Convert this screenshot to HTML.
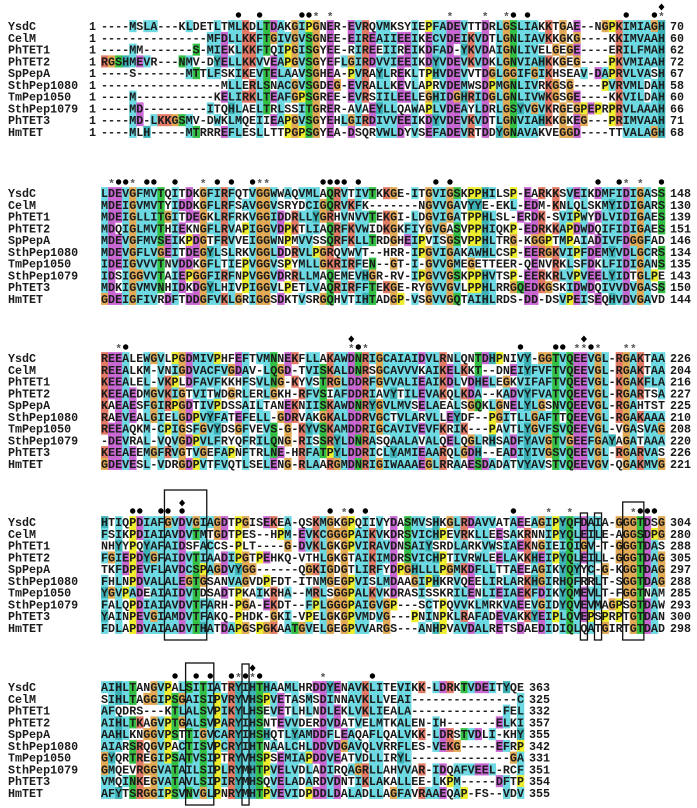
<!DOCTYPE html>
<html>
<head>
<meta charset="utf-8">
<style>
html,body{margin:0;padding:0;background:#fff;}
svg{display:block;}
text{font-family:"Liberation Mono",monospace;font-weight:bold;}
</style>
</head>
<body>
<svg id="msa" width="697" height="808" viewBox="0 0 697 808" xmlns="http://www.w3.org/2000/svg"></svg>
<script>
const names = ["YsdC","CelM","PhTET1","PhTET2","SpPepA","SthPep1080","TmPep1050","SthPep1079","PhTET3","HmTET"];
const startNums = [1,1,1,1,1,1,1,1,1,1];
const endNums0 = [70,60,62,72,67,58,60,66,71,68];
const endNums1 = [148,130,139,151,146,134,135,143,150,144];
const endNums2 = [226,204,216,227,225,210,208,220,226,221];
const endNums3 = [304,280,288,305,297,288,285,293,300,298];
const endNums4 = [363,325,332,357,355,342,331,351,354,355];
const seqs0 = [
"----MSLA---KLDETLTMLKDLTDAKGIPGNER-EVRQVMKSYIEPFADEVTTDRLGSLIAKKTGAE--NGPKIMIAGH",
"---------------MFDLLKKFTGIVGVSGNEE-EIREAIIEEIKECVDEIKVDTLGNLIAVKKGKG----KKIMVAAH",
"----MM-------S-MIEKLKKFTQIPGISGYEE-RIREEIIREIKDFAD-YKVDAIGNLIVELGEGE----ERILFMAH",
"RGSHMEVR---NMV-DYELLKKVVEAPGVSGYEFLGIRDVVIEEIKDYVDEVKVDKLGNVIAHKKGEG----PKVMIAAH",
"----S-------MTTLFSKIKEVTELAAVSGHEA-PVRAYLREKLTPHVDEVVTDGLGGIFGIKHSEAV-DAPRVLVASH",
"-----------------MLLERLSNACGVSGDEG-EVRALLKEVLAPRVDEMWSDPMGNLIVRKGSG----PVRVMLDAH",
"----M-----------KELIRKLTEAFGPSGREE-EVRSIILEELEGHIDGHRIDGLGNLIVWKGSGE----KKVILDAH",
"----MD---------ITQHLAELTRLSSITGRER-AVAEYLLQAWAPLVDEAYLDRLGSYVGVKRGEGPEPRPRVLAAAH",
"----MD-LKKGSMV-DWKLMQEIIEAPGVSGYEHLGIRDIVVEEIKDYVDEVKVDTLGNVIAHKKGKEG---PRIMVAAH",
"----MLH-----MTRRREFLESLLTTPGPSGYEA-DSQRVWLDYVSEFADEVRTDDYGNAVAKVEGGD----TTVALAGH"];
const seqs1 = [
"LDEVGFMVTQITDKGFIRFQTVGGWWAQVMLAQRVTIVTKKGE-ITGVIGSKPPHILSP-EARKKSVEIKDMFIDIGASS",
"MDEIGVMVTYIDDKGFLRFSAVGGVSRYDCIGQRVKFK-------NGVVGAVYYE-EKL-EDM-KNLQLSKMYIDIGARS",
"MDEIGLLITGITDEGKLRFRKVGGIDDRLLYGRHVNVVTEKGI-LDGVIGATPPHLSL-ERDK-SVIPWYDLVIDIGAES",
"MDQIGLMVTHIEKNGFLRVAPIGGVDPKTLIAQRFKVWIDKGKFIYGVGASVPPHIQKP-EDRKKAPDWDQIFIDIGAES",
"MDEVGFMVSEIKPDGTFRVVEIGGWNPMVVSSQRFKLLTRDGHEIPVISGSVPPHLTRG-KGGPTMPAIADIVFDGGFAD",
"MDEVGFLVGEITDEGYLSLRKVGGLDDRVLPGRQVWVT--HRR-IPGVIGAKAWHLCSP-EERGKVIPFDEMYVDLGCRS",
"IDEIGVVVTNVDDKGFLTIEPVGGVSPYMLLGKRIRFEN--GT-I-GVVGMEGETTEER-QENVRKLSFDKLFIDIGANS",
"IDSIGGVVTAIEPGGFIRFNPVGGVDRRLLMAQEMEVHGR-RV-IPGVVGSKPPHVTSP-EERKRLVPVEELYIDTGLPE",
"MDKIGVMVNHIDKDGYLHIVPIGGVLPETLVAQRIRFFTEKGE-RYGVVGVLPPHLRRGQEDKGSKIDWDQIVVDVGASS",
"GDEIGFIVRDFTDDGFVKLGRIGGSDKTVSRGQHVTIHTADGP-VSGVVGQTAIHLRDS-DD-DSVPEISEQHVDVGAVD"];
const seqs2 = [
"REEALEWGVLPGDMIVPHFEFTVMNNEKFLLAKAWDNRIGCAIAIDVLRNLQNTDHPNIVY-GGTVQEEVGL-RGAKTAA",
"REEALKM-VNIGDVACFVGDAV-LQGD-TVISKALDNRSGCAVVVKAIKELKKT--DNEIYFVFTVQEEVGL-RGAKTAA",
"KEEALEL-VKPLDFAVFKKHFSVLNG-KYVSTRGLDDRFGVVALIEAIKDLVDHELEGKVIFAFTVQEEVGL-KGAKFLA",
"KEEAEDMGVKIGTVITWDGRLERLGKH-RFVSIAFDDRIAVYTILEVAKQLKDA--KADVYFVATVQEEVGL-RGARTSA",
"KAEAESFGIRPGDTIVPDSSAILTANEKNIISKAWDNRYGVLMVSELAEALSGQKLGNELYLGSNVQEEVGL-RGAHTST",
"RAEVEALGIELGDPVYFATEFELL-GDRVAKGKALDDRVGCTVLARVLLEYDF--PGITLLGAFTTQEEVGL-RGAKAAA",
"REEAQKM-CPIGSFGVYDSGFVEVS-G-KYVSKAMDDRIGCAVIVEVFKRIK---PAVTLYGVFSVQEEVGL-VGASVAG",
"-DEVRAL-VQVGDPVLFRYQFRILQNG-RISSRYLDNRASQAALAVALQELQGLRHSADFYAVGTVGEEFGAYAGATAAA",
"KEEAEEMGFRVGTVGEFAPNFTRLNE-HRFATPYLDDRICLYAMIEAARQLGDH--EADIYIVGSVQEEVGL-RGARVAS",
"GDEVESL-VDRGDPVTFVQTLSELENG-RLAARGMDNRIGIWAAAEGLRRAAESDADATVYAVSTVQEEVGV-QGAKMVG"];
const seqs3 = [
"HTIQPDIAFGVDVGIAGDTPGISEKEA-QSKMGKGPQIIVYDASMVSHKGLRDAVVATAEEAGIPYQFDAIA-GGGTDSG",
"FSIKPDIAIAVDVTMTGDTPES--HPM-EVKCGGGPAIKVKDRSVICHPEVRKLLEESAKRNNIPYQLEILE-AGGSDPG",
"NHYYPQYAFAIDSFACCS-PLT----G-DVKLGKGPVIRAVDNSAIYSRDLARKVWSIAEKNGIEIQIGV-T-GGGTDAS",
"FGIEPDYGFAIDVTIAADIPGTPEHKQ-VTHLGKGTAIKIMDRSVICHPTIVRWLEELAKKHEIPYQLEILL-GGGTDAG",
"TKFDPEVFLAVDCSPAGDVYGG------QGKIGDGTLIRFYDPGHLLLPGMKDFLLTTAEEAGIKYQYYC-G-KGGTDAG",
"FHLNPDVALALEGTGSANVAGVDPFDT-ITNMGEGPVISLMDAAGIPHKRVQEELIRLARKHGIRHQFRRLT-SGGTDAG",
"YGVPADEAIAIDVTDSADTPKAIKRHA--MRLSGGPALKVKDRASISSKRILENLIEIAEKFDIKYQMEVLT-FGGTNAM",
"FALQPDIAIAVDVTFARH-PGA-EKDT--FPLGGGPAIGVGP---SCTPQVVKLMRKVAEEVGIDYQVEVMAGPSGTDAW",
"YAINPEVGIAMDVTFAKQ-PHDK-GKI-VPELGKGPVMDVG---PNINPKLRAFADEVAKKYEIPLQVEPSPRPTGTDAN",
"FDLAPDVAIAADVTHATDAPGSPGKAATGVELGEGPVVARGS---ANHPVAVDALRETSDAEDIDIQLQATGIRTGTDAD"];
const seqs4 = [
"AIHLTANGVPALSITIATRYIHTHAAMLHRDDYENAVKLITEVIKK-LDRKTVDEITYQE",
"SIHLTAGGIPSGAISIPVRYVHSPVETASMSDINNAVKLLVEAI---------------C",
"AFQDRS---KTLALSVPIKYLHSEVETLHLNDLEKLVKLIEALA-------------FEL",
"AIHLTKAGVPTGALSVPARYIHSNTEVVDERDVDATVELMTKALEN-IH-------ELKI",
"AAHLKNGGVPSTTIGVCARYIHSHQTLYAMDDFLEAQAFLQALVKK-LDRSTVDLI-KHY",
"AIARSRQGVPACTISVPCRYIHTNAALCHLDDVDGAVQLVRRFLES-VEKG-----EFRP",
"GYQRTREGIPSATVSIPTRYVHSPSEMIAPDDVEATVDLLIRYL--------------GA",
"GMQEVRGGVATAILSIPLRYMHTPVELVDLADIRQAGRLLAHVVAR-IDQAFVEEL-RCF",
"VMQINKEGVATAVLSIPIRYMHSQVELADARDVDNTIKLAKALLEE-LKPM-----DFTP",
"AFYTSRGGIPSVNVGLPNRYMHTPVEVIDPDDLDALADLLAGFAVRAAEQAP-FS--VDV"];
const dots0 = [19,22,28,29,58,60,74,78];
const stars0 = [30,32,49,54,57,79];
const diamonds0 = [79];
const dots1 = [2,3,6,7,10,16,18,21,31,32,33,34,36,47,49,70,73,79];
const stars1 = [1,4,14,22,23,74,76];
const diamonds1 = [];
const dots2 = [3,36,59,64,65,69];
const stars2 = [2,35,37,67,68,70,74,75];
const diamonds2 = [35,68];
const dots3 = [4,5,8,9,11,32,35,37,58,76,77,78];
const stars3 = [34,63,66,75];
const diamonds3 = [11];
const dots4 = [10,13,15,18,20,22,38];
const stars4 = [19,21,31];
const diamonds4 = [21];
const boxCols3 = [[9,15],[68,69],[70,71],[74,77]];
const boxCols4 = [[12,16],[20,21]];

const blocks = [
 {seqs:seqs0,ends:endNums0,dots:dots0,stars:stars0,dia:diamonds0,boxes:[],y:26},
 {seqs:seqs1,ends:endNums1,dots:dots1,stars:stars1,dia:diamonds1,boxes:[],y:193},
 {seqs:seqs2,ends:endNums2,dots:dots2,stars:stars2,dia:diamonds2,boxes:[],y:358},
 {seqs:seqs3,ends:endNums3,dots:dots3,stars:stars3,dia:diamonds3,boxes:boxCols3,y:522},
 {seqs:seqs4,ends:endNums4,dots:dots4,stars:stars4,dia:diamonds4,boxes:boxCols4,y:687}
];
const boxTops3 = [-32,-9,-9,-20];
const boxTops4 = [-24,-23];

const X0 = 101, CW = 7.05, RH = 11.75;
const colX = c => X0 + c*CW;
const rowY = (b,r) => blocks[b].y + r*RH;

const COL = {hyd:"#6dd9e2", hy:"#3db2b6", de:"#c866d2", kr:"#e27a66", stnq:"#33c044", g:"#e3aa55", p:"#eeee2c"};
const NS = "http://www.w3.org/2000/svg";
const svg = document.getElementById("msa");
function mk(tag, attrs){ const e=document.createElementNS(NS,tag); for(const k in attrs) e.setAttribute(k,attrs[k]); return e; }

function colorFor(ch, column){
  const n = column.filter(c=>c!=='-').length || 1;
  const frac = set => column.filter(c=>set.includes(c)).length / n;
  if(ch==='G') return COL.g;
  if(ch==='P') return COL.p;
  if("AILMFWVC".includes(ch)) return frac("WLVIMAFCHPY")>=0.5 ? COL.hyd : null;
  if("HY".includes(ch)) return frac("WYACPQFHILMV")>=0.6 ? COL.hy : null;
  if("KR".includes(ch)) return frac("KRQ")>=0.45 ? COL.kr : null;
  if("DE".includes(ch)) return frac("DEQN")>=0.45 ? COL.de : null;
  if("STNQ".includes(ch)) return frac("STNQ")>=0.45 ? COL.stnq : null;
  return null;
}

blocks.forEach((blk,b)=>{
  const g = mk("g",{});
  
  
  svg.appendChild(g);
  const L = Math.max(...blk.seqs.map(s=>s.length));
  const seqs = blk.seqs.map(s=>s.padEnd(L,'-'));
  const bg = mk("g",{});
  
  
  g.appendChild(bg);
  for(let c=0;c<L;c++){
    const column = seqs.map(s=>s[c]);
    seqs.forEach((s,r)=>{
      const ch=s[c]; if(ch==='-') return;
      const fill=colorFor(ch,column); if(!fill) return;
      const rc=mk("rect",{x:colX(c).toFixed(2),y:(rowY(b,r)-RH/2).toFixed(2),width:CW+0.3,height:RH+0.3,fill:fill});
      
      
      bg.appendChild(rc);
    });
  }
  seqs.forEach((s,r)=>{
    const y=rowY(b,r)+4.1;
    const nm=mk("text",{x:8,y:y,"font-size":"11.7",fill:"#1a1a1a"});
    nm.textContent=names[r];
    
    
    g.appendChild(nm);
    if(b===0){
      const sn=mk("text",{x:96,y:y,"font-size":"11.7","text-anchor":"end",fill:"#1a1a1a"});
      sn.textContent=startNums[r];
      
      
      g.appendChild(sn);
    }
    const t=mk("text",{x:X0,y:y,"font-size":"11.7",fill:"#1a1a1a",textLength:(L*CW).toFixed(1),lengthAdjust:"spacing"});
    t.textContent=s;
    
    
    g.appendChild(t);
    const en=mk("text",{x:colX(L)+5,y:y,"font-size":"11.7",fill:"#1a1a1a"});
    en.textContent=blk.ends[r];
    
    
    g.appendChild(en);
  });
  const my = blk.y - 11;
  blk.dots.forEach(c=>{
    const d=mk("circle",{cx:(colX(c)+CW/2).toFixed(2),cy:my,r:2.7,fill:"#000"});
    
    
    g.appendChild(d);
  });
  blk.stars.forEach(c=>{
    const st=mk("text",{x:(colX(c)+CW/2).toFixed(2),y:my+5,"font-size":"11","text-anchor":"middle",fill:"#555","font-weight":"normal"});
    st.textContent="*";
    
    
    g.appendChild(st);
  });
  blk.dia.forEach(c=>{
    const cx=colX(c)+CW/2, cy=my-8;
    const dm=mk("polygon",{points:`${cx},${cy-3.5} ${cx+3},${cy} ${cx},${cy+3.5} ${cx-3},${cy}`,fill:"#000"});
    
    
    g.appendChild(dm);
  });
  const tops = b===3 ? boxTops3 : boxTops4;
  blk.boxes.forEach((bx,i)=>{
    const top = blk.y + tops[i];
    const bottom = b===3 ? 640 : 805;
    const rr=mk("rect",{x:colX(bx[0]).toFixed(2),y:top,width:((bx[1]-bx[0])*CW).toFixed(2),height:bottom-top,fill:"none",stroke:"#111","stroke-width":1.3});
    
    
    g.appendChild(rr);
  });
});
</script>
</body>
</html>
